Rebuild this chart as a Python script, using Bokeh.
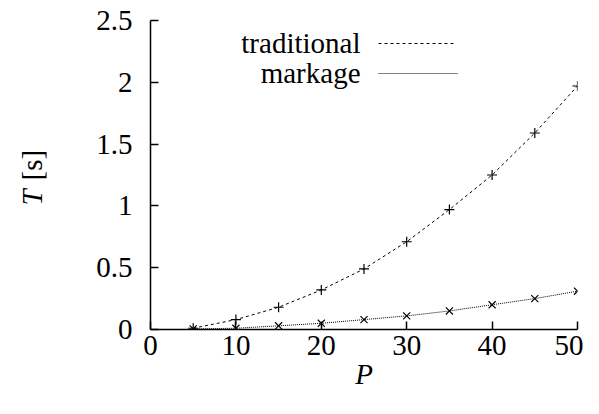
from bokeh.plotting import figure
from bokeh.models import Range1d, Label, Arrow, FixedTicker
from bokeh.embed import file_html
from bokeh.resources import INLINE
import math

P = [5, 10, 15, 20, 25, 30, 35, 40, 45, 50]
traditional = [0.01, 0.08, 0.18, 0.32, 0.49, 0.71, 0.97, 1.25, 1.59, 1.97]
markage = [0.005, 0.01, 0.03, 0.05, 0.08, 0.11, 0.15, 0.20, 0.25, 0.31]
x_ticks = [0, 10, 20, 30, 40, 50]
y_ticks = [0, 0.5, 1, 1.5, 2, 2.5]
series_names = ["traditional", "markage"]

FONT = "Liberation Serif"
FS = "29px"

p = figure(width=583, height=398, output_backend="svg", toolbar_location=None,
           x_range=Range1d(0, 50), y_range=Range1d(0, 2.5),
           min_border_left=150, min_border_right=6, min_border_top=20, min_border_bottom=69)
p.outline_line_color = None
p.grid.visible = False

for ax in (p.xaxis[0], p.yaxis[0]):
    ax.major_tick_in = 8
    ax.major_tick_out = 0
    ax.minor_tick_line_color = None
    ax.axis_line_width = 1.5
    ax.major_tick_line_width = 1.5
    ax.axis_line_color = "black"
    ax.major_tick_line_color = "black"
    ax.major_label_text_font = FONT
    ax.major_label_text_font_size = FS
    ax.major_label_text_color = "black"

p.xaxis[0].ticker = FixedTicker(ticks=x_ticks)
p.yaxis[0].ticker = FixedTicker(ticks=y_ticks)
p.xaxis[0].major_label_standoff = 6
p.yaxis[0].major_label_standoff = 18
p.xaxis[0].axis_label = "P"
p.xaxis[0].axis_label_text_font = FONT
p.xaxis[0].axis_label_text_font_style = "italic"
p.xaxis[0].axis_label_text_font_size = FS
p.xaxis[0].axis_label_text_color = "black"
p.xaxis[0].axis_label_standoff = 0

p.line(P, traditional, line_color="black", line_width=1, line_dash="3 3")
p.scatter(P, traditional, marker="cross", size=10, line_color="black", line_width=1.2)
p.line(P, markage, line_color="black", line_width=1, line_dash="1 1")
p.scatter(P, markage, marker="x", size=10, line_color="black", line_width=1.2)

# legend (text left of its sample line, as in the reference)
p.add_layout(Label(x=360, y=42, x_units="canvas", y_units="canvas", text=series_names[0],
                   text_align="right", text_baseline="middle", text_font=FONT,
                   text_font_size=FS, text_color="black"))
p.add_layout(Label(x=360, y=72, x_units="canvas", y_units="canvas", text=series_names[1],
                   text_align="right", text_baseline="middle", text_font=FONT,
                   text_font_size=FS, text_color="black"))
p.add_layout(Arrow(x_start=378, y_start=43, x_end=455, y_end=43, start_units="canvas",
                   end_units="canvas", end=None, line_color="black", line_width=1, line_dash="3 3"))
p.add_layout(Arrow(x_start=378, y_start=73, x_end=457, y_end=73, start_units="canvas",
                   end_units="canvas", end=None, line_color="black", line_width=1, line_dash="1 1"))

# y axis label: italic T, upright [s], placed in the left side panel
p.add_layout(Label(x=31, y=205, x_units="canvas", y_units="canvas", text="T", angle=math.pi / 2,
                   text_align="left", text_baseline="middle", text_font=FONT,
                   text_font_style="italic", text_font_size=FS, text_color="black"), "left")
p.add_layout(Label(x=31, y=180, x_units="canvas", y_units="canvas", text="[s]", angle=math.pi / 2,
                   text_align="left", text_baseline="middle", text_font=FONT,
                   text_font_size=FS, text_color="black"), "left")

open("out.html", "w").write(file_html(p, INLINE))
